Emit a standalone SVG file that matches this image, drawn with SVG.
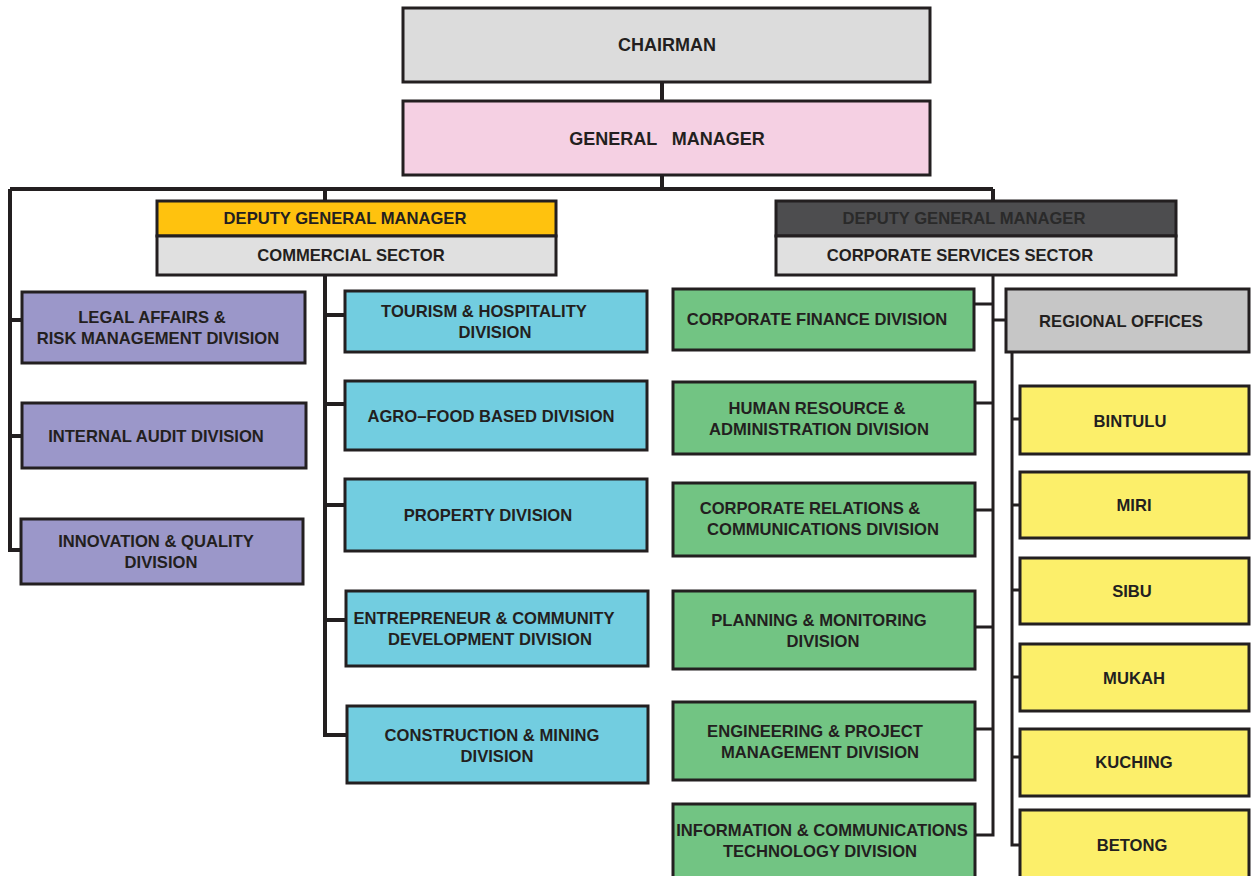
<svg xmlns="http://www.w3.org/2000/svg" width="1257" height="876" viewBox="0 0 1257 876">
<style>
.b{stroke:#231f20;stroke-width:3}
.t{font-family:"Liberation Sans",Arial,sans-serif;font-weight:bold;font-size:16.6px;fill:#231f20;text-anchor:middle;dominant-baseline:central}
.l{font-size:18px}
.c{stroke:#231f20;stroke-width:4;fill:none}
.ct{stroke:#231f20;stroke-width:3;fill:none}
.p{fill:#9b97c9}.cy{fill:#72cde0}.g{fill:#72c483}.y{fill:#fcef6a}
</style>
<rect width="1257" height="876" fill="#ffffff"/>
<g id="connectors">
<path class="c" d="M662 82V101M662 175V189M10 189H993M325 189V202M993 189V201"/>
<path class="c" d="M10 189V550H22M10 320H22M10 436H22"/>
<path class="c" d="M325 275V735H347M325 315H345M325 404H345M325 505H345M325 620H346"/>
<path class="ct" d="M993 275V835H975M975 304H993M975 403H993M975 510H993M975 627H993M975 729H993M993 320H1006"/>
<path class="ct" d="M1012 352V845H1020M1012 419H1020M1012 505H1020M1012 590H1020M1012 677H1020M1012 757H1020"/>
</g>
<g id="chairman"><rect class="b" x="403" y="8" width="527" height="74" fill="#dcdcdc"/><text class="t l" x="667" y="45">CHAIRMAN</text></g>
<g id="gm"><rect class="b" x="403" y="101" width="527" height="74" fill="#f5d0e3"/><text class="t l" x="667" y="139" xml:space="preserve">GENERAL   MANAGER</text></g>
<g id="dgm-commercial"><rect class="b" x="157" y="201" width="399" height="35" fill="#ffc20e"/><text class="t" x="345" y="218">DEPUTY GENERAL MANAGER</text><rect class="b" x="157" y="236" width="399" height="39" fill="#e0e0e0"/><text class="t" x="351" y="255">COMMERCIAL SECTOR</text></g>
<g id="dgm-corporate"><rect class="b" x="776" y="201" width="400" height="35" fill="#4d4d4f"/><text class="t" x="964" y="218" style="fill:#2a2a2a">DEPUTY GENERAL MANAGER</text><rect class="b" x="776" y="236" width="400" height="39" fill="#e0e0e0"/><text class="t" x="960" y="255">CORPORATE SERVICES SECTOR</text></g>
<g id="legal"><rect class="b p" x="22" y="292" width="283" height="71"/><text class="t" x="152" y="317">LEGAL AFFAIRS &amp;</text><text class="t" x="158" y="338">RISK MANAGEMENT DIVISION</text></g>
<g id="audit"><rect class="b p" x="22" y="403" width="284" height="65"/><text class="t" x="156" y="436">INTERNAL AUDIT DIVISION</text></g>
<g id="innovation"><rect class="b p" x="21" y="519" width="282" height="65"/><text class="t" x="156" y="541">INNOVATION &amp; QUALITY</text><text class="t" x="161" y="562">DIVISION</text></g>
<g id="tourism"><rect class="b cy" x="345" y="291" width="302" height="61"/><text class="t" x="484" y="311">TOURISM &amp; HOSPITALITY</text><text class="t" x="495" y="332">DIVISION</text></g>
<g id="agro"><rect class="b cy" x="345" y="381" width="302" height="69"/><text class="t" x="491" y="416">AGRO–FOOD BASED DIVISION</text></g>
<g id="property"><rect class="b cy" x="345" y="479" width="302" height="72"/><text class="t" x="488" y="515">PROPERTY DIVISION</text></g>
<g id="entrepreneur"><rect class="b cy" x="346" y="591" width="302" height="75"/><text class="t" x="484" y="618">ENTREPRENEUR &amp; COMMUNITY</text><text class="t" x="490" y="639">DEVELOPMENT DIVISION</text></g>
<g id="construction"><rect class="b cy" x="347" y="706" width="301" height="77"/><text class="t" x="492" y="735">CONSTRUCTION &amp; MINING</text><text class="t" x="497" y="756">DIVISION</text></g>
<g id="finance"><rect class="b g" x="673" y="289" width="301" height="61"/><text class="t" x="817" y="319">CORPORATE FINANCE DIVISION</text></g>
<g id="hr"><rect class="b g" x="673" y="382" width="302" height="72"/><text class="t" x="817" y="408">HUMAN RESOURCE &amp;</text><text class="t" x="819" y="429">ADMINISTRATION DIVISION</text></g>
<g id="relations"><rect class="b g" x="673" y="483" width="302" height="73"/><text class="t" x="810" y="508">CORPORATE RELATIONS &amp;</text><text class="t" x="823" y="529">COMMUNICATIONS DIVISION</text></g>
<g id="planning"><rect class="b g" x="673" y="591" width="302" height="78"/><text class="t" x="819" y="620">PLANNING &amp; MONITORING</text><text class="t" x="823" y="641">DIVISION</text></g>
<g id="engineering"><rect class="b g" x="673" y="702" width="302" height="78"/><text class="t" x="815" y="731">ENGINEERING &amp; PROJECT</text><text class="t" x="820" y="752">MANAGEMENT DIVISION</text></g>
<g id="ict"><rect class="b g" x="673" y="804" width="302" height="76"/><text class="t" x="822" y="830">INFORMATION &amp; COMMUNICATIONS</text><text class="t" x="820" y="851">TECHNOLOGY DIVISION</text></g>
<g id="regional"><rect class="b" x="1006" y="289" width="243" height="63" fill="#c6c6c6"/><text class="t" x="1121" y="321">REGIONAL OFFICES</text></g>
<g id="bintulu"><rect class="b y" x="1020" y="386" width="229" height="68"/><text class="t" x="1130" y="421">BINTULU</text></g>
<g id="miri"><rect class="b y" x="1020" y="472" width="229" height="66"/><text class="t" x="1134" y="505">MIRI</text></g>
<g id="sibu"><rect class="b y" x="1020" y="558" width="229" height="66"/><text class="t" x="1132" y="591">SIBU</text></g>
<g id="mukah"><rect class="b y" x="1020" y="644" width="229" height="67"/><text class="t" x="1134" y="678">MUKAH</text></g>
<g id="kuching"><rect class="b y" x="1020" y="729" width="229" height="67"/><text class="t" x="1134" y="762">KUCHING</text></g>
<g id="betong"><rect class="b y" x="1020" y="810" width="229" height="70"/><text class="t" x="1132" y="845">BETONG</text></g>
</svg>
